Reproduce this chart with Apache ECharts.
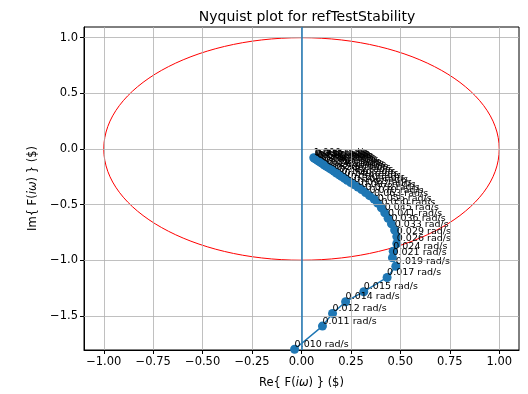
<!DOCTYPE html>
<html>
<head>
<meta charset="utf-8">
<script src="https://cdn.jsdelivr.net/npm/echarts@6/dist/echarts.min.js"></script>
<style>
  html, body { margin: 0; padding: 0; background: #fff; }
  #chart { width: 528px; height: 394px; }
</style>
</head>
<body>
<div id="chart"></div>
<script>
// Frequency of each sample (rad/s), as printed next to the point
const freqLabels = ['0.010','0.011','0.012','0.014','0.015','0.017','0.019','0.021','0.024','0.026',
  '0.029','0.033','0.036','0.041','0.045','0.050','0.056','0.063','0.070','0.078',
  '0.087','0.097','0.108','0.120','0.134','0.149','0.166','0.185','0.206','0.229',
  '0.255','0.285','0.317','0.353','0.393','0.438','0.488','0.543','0.605','0.674',
  '0.751','0.836','0.931','1.000'];
// Real part of F(iω)
const reVals = [-0.035, 0.106, 0.157, 0.223, 0.315, 0.433, 0.477, 0.460, 0.464, 0.482,
  0.482, 0.471, 0.455, 0.438, 0.421, 0.404, 0.385, 0.367, 0.344, 0.324,
  0.304, 0.285, 0.266, 0.249, 0.231, 0.217, 0.202, 0.190, 0.177, 0.165,
  0.154, 0.144, 0.133, 0.125, 0.116, 0.108, 0.100, 0.093, 0.087, 0.081,
  0.076, 0.071, 0.066, 0.062];
// Imaginary part of F(iω)
const imVals = [-1.800, -1.592, -1.478, -1.373, -1.283, -1.155, -1.054, -0.978, -0.919, -0.850,
  -0.787, -0.728, -0.673, -0.623, -0.573, -0.528, -0.487, -0.450, -0.420, -0.392,
  -0.365, -0.343, -0.321, -0.302, -0.282, -0.264, -0.247, -0.232, -0.216, -0.201,
  -0.188, -0.176, -0.164, -0.154, -0.144, -0.134, -0.124, -0.116, -0.108, -0.101,
  -0.095, -0.089, -0.084, -0.079];
// Unit circle: centre (re, im) and radius
const unitCircle = [[0, 0, 1]];
// Tick values
const xTicks = [-1, -0.75, -0.5, -0.25, 0, 0.25, 0.5, 0.75, 1];
const yTicks = [-1.5, -1, -0.5, 0, 0.5, 1];

const FONT = 'DejaVu Sans';
const C0 = '#1f77b4';
const fmt = (v, d) => (v < 0 ? '\u2212' : '') + Math.abs(v).toFixed(d);

const points = reVals.map((re, i) => ({ name: freqLabels[i], value: [re, imVals[i]] }));

const gridLine = { color: '#b0b0b0', width: 0.8, type: 'solid' };

const chart = echarts.init(document.getElementById('chart'), null, { renderer: 'canvas' });
chart.setOption({
  animation: false,
  backgroundColor: '#fff',
  title: {
    text: 'Nyquist plot for refTestStability',
    left: 302, top: 5, textAlign: 'center',
    textStyle: { fontFamily: FONT, fontSize: 14, fontWeight: 'normal', color: '#000' }
  },
  grid: {
    left: 84, right: 9, top: 27, bottom: 43,
    show: true, borderColor: '#000', borderWidth: 1, backgroundColor: 'transparent'
  },
  xAxis: {
    type: 'value', min: -1.1, max: 1.1,
    name: 'Re{ F({i|iω}) } ($)', nameLocation: 'middle', nameGap: 27,
    nameTextStyle: { fontFamily: FONT, fontSize: 11.5, color: '#000',
      rich: { i: { fontFamily: FONT, fontSize: 11.5, fontStyle: 'italic', color: '#000' } } },
    axisLine: { show: true, onZero: false, lineStyle: { color: '#000', width: 1 } },
    axisTick: { show: true, inside: false, length: 4, customValues: xTicks, lineStyle: { color: '#000' } },
    axisLabel: { customValues: xTicks, margin: 6, fontFamily: FONT, fontSize: 11.5, color: '#000',
      formatter: v => fmt(v, 2) },
    splitLine: { show: false }
  },
  yAxis: {
    type: 'value', min: -1.807, max: 1.096,
    name: 'Im{ F({i|iω}) } ($)', nameLocation: 'middle', nameGap: 45, nameRotate: 90,
    nameTextStyle: { fontFamily: FONT, fontSize: 11.5, color: '#000',
      rich: { i: { fontFamily: FONT, fontSize: 11.5, fontStyle: 'italic', color: '#000' } } },
    axisLine: { show: true, onZero: false, lineStyle: { color: '#000', width: 1 } },
    axisTick: { show: true, inside: false, length: 4, customValues: yTicks, lineStyle: { color: '#000' } },
    axisLabel: { customValues: yTicks, margin: 6, fontFamily: FONT, fontSize: 11.5, color: '#000',
      formatter: v => fmt(v, 1) },
    splitLine: { show: false }
  },
  series: [
    {
      // grid lines at the tick positions
      type: 'line', data: [], silent: true, z: 1,
      markLine: {
        silent: true, symbol: 'none', label: { show: false }, lineStyle: gridLine, animation: false,
        data: xTicks.map(v => ({ xAxis: v })).concat(yTicks.map(v => ({ yAxis: v })))
      }
    },
    {
      type: 'custom', z: 2, silent: true, clip: true,
      data: unitCircle,
      encode: { x: 0, y: 1 },
      renderItem: (params, api) => {
        const c = api.coord([api.value(0), api.value(1)]);
        const s = api.size([api.value(2), api.value(2)]);
        return {
          type: 'ellipse',
          shape: { cx: c[0], cy: c[1], rx: s[0], ry: s[1] },
          style: { fill: 'none', stroke: '#ff0000', lineWidth: 1 }
        };
      }
    },
    {
      // imaginary axis
      type: 'line', data: [], silent: true, z: 3,
      markLine: {
        silent: true, symbol: 'none', label: { show: false }, animation: false,
        lineStyle: { color: C0, width: 1.5, type: 'solid' },
        data: [{ xAxis: 0 }]
      }
    },
    {
      type: 'line', z: 4, data: points, clip: true,
      showAllSymbol: true, symbol: 'circle', symbolSize: 9,
      lineStyle: { color: C0, width: 1.5 },
      itemStyle: { color: C0, borderWidth: 0 },
      label: {
        show: true, position: [4.5, 4.5], align: 'left', verticalAlign: 'bottom', offset: [0, 2],
        formatter: '{b} rad/s',
        fontFamily: FONT, fontSize: 9.5, color: '#000'
      },
      labelLayout: { hideOverlap: false }
    }
  ]
});
</script>
</body>
</html>
